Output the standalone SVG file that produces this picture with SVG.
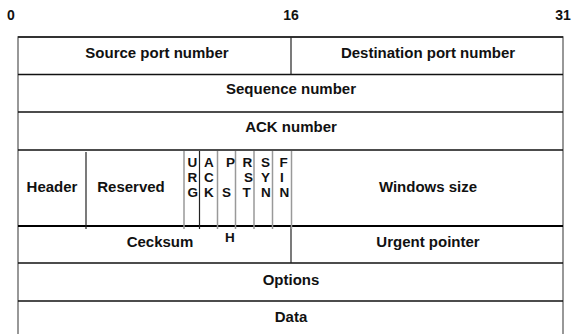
<svg xmlns="http://www.w3.org/2000/svg" width="580" height="334" viewBox="0 0 580 334">
  <style>
    text { font-family: "Liberation Sans", Arial, sans-serif; font-weight: bold; fill: #111; }
    .lbl { font-size: 15px; text-anchor: middle; }
    .bit { font-size: 14px; text-anchor: middle; }
    .flag { font-size: 13.5px; }
    .frame { fill: none; stroke: #777; stroke-width: 1.5; }
    .row { stroke: #111; stroke-width: 1.6; }
    .row2 { stroke: #000; stroke-width: 2.2; }
    .div { stroke: #222; stroke-width: 1.2; }
    .fdiv { stroke: #999; stroke-width: 1.5; }
  </style>

  <!-- bit position ruler -->
  <g id="ruler">
    <text class="bit" x="11" y="20">0</text>
    <text class="bit" x="291" y="20">16</text>
    <text class="bit" x="563" y="20">31</text>
  </g>

  <!-- outer frame and row separators -->
  <g id="connectors">
    <path class="frame" d="M18,340 V37 H563 V340"/>
    <line class="row" x1="18" y1="37" x2="563" y2="37"/>
    <line class="row" x1="18" y1="74.5" x2="563" y2="74.5"/>
    <line class="row" x1="18" y1="112" x2="563" y2="112"/>
    <line class="row" x1="18" y1="150" x2="563" y2="150"/>
    <line class="row2" x1="18" y1="226" x2="563" y2="226"/>
    <line class="row" x1="18" y1="263" x2="563" y2="263"/>
    <line class="row" x1="18" y1="301" x2="563" y2="301"/>
    <line class="div" x1="291" y1="37" x2="291" y2="74.5"/>
    <line class="div" x1="291" y1="226" x2="291" y2="263"/>
    <line class="div" x1="86" y1="152" x2="86" y2="229"/>
    <line class="fdiv" x1="184" y1="151" x2="184" y2="229"/>
    <line class="div" x1="199.5" y1="151" x2="199.5" y2="229"/>
    <line class="fdiv" x1="217.5" y1="151" x2="217.5" y2="229"/>
    <line class="fdiv" x1="235.5" y1="151" x2="235.5" y2="229"/>
    <line class="fdiv" x1="254" y1="151" x2="254" y2="229"/>
    <line class="fdiv" x1="272.5" y1="151" x2="272.5" y2="229"/>
    <line class="fdiv" x1="291.5" y1="151" x2="291.5" y2="229"/>
  </g>

  <g id="source-port"><text class="lbl" x="157" y="58">Source port number</text></g>
  <g id="dest-port"><text class="lbl" x="428" y="58">Destination port number</text></g>
  <g id="sequence"><text class="lbl" x="291" y="94">Sequence number</text></g>
  <g id="ack-number"><text class="lbl" x="291" y="132">ACK number</text></g>
  <g id="header"><text class="lbl" x="52" y="192">Header</text></g>
  <g id="reserved"><text class="lbl" x="131" y="192">Reserved</text></g>

  <!-- control flags, one letter per line -->
  <g id="flags">
    <text class="flag" x="187.5" y="167">U</text>
    <text class="flag" x="187.5" y="182">R</text>
    <text class="flag" x="187.5" y="197">G</text>
    <text class="flag" x="204" y="167">A</text>
    <text class="flag" x="204" y="182">C</text>
    <text class="flag" x="204" y="197">K</text>
    <text class="flag" x="226" y="167">P</text>
    <text class="flag" x="222" y="197">S</text>
    <text class="flag" x="242.5" y="167">R</text>
    <text class="flag" x="244" y="182">S</text>
    <text class="flag" x="242.5" y="197">T</text>
    <text class="flag" x="261" y="167">S</text>
    <text class="flag" x="261" y="182">Y</text>
    <text class="flag" x="261" y="197">N</text>
    <text class="flag" x="279.5" y="167">F</text>
    <text class="flag" x="280" y="182">I</text>
    <text class="flag" x="279.5" y="197">N</text>
  </g>

  <g id="window"><text class="lbl" x="428" y="192">Windows size</text></g>
  <g id="checksum">
    <text class="lbl" x="160" y="247">Cecksum</text>
    <text class="flag" x="225" y="242">H</text>
  </g>
  <g id="urgent"><text class="lbl" x="428" y="247">Urgent pointer</text></g>
  <g id="options"><text class="lbl" x="291" y="285">Options</text></g>
  <g id="data"><text class="lbl" x="291" y="322">Data</text></g>
</svg>
